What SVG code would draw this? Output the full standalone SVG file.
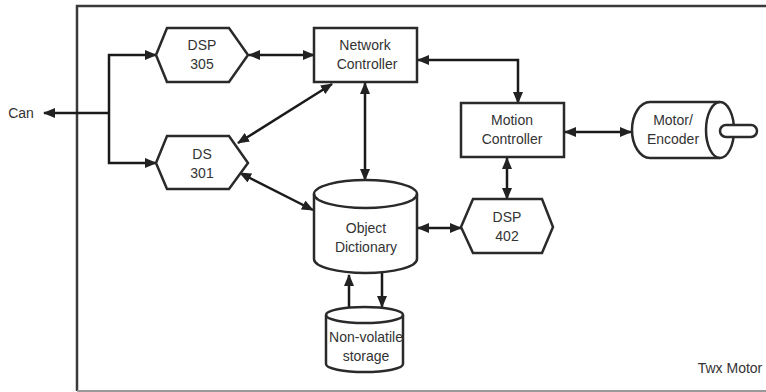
<svg xmlns="http://www.w3.org/2000/svg" width="766" height="392" viewBox="0 0 766 392">
<defs>
<marker id="arr" viewBox="0 0 12 10" refX="11" refY="5" markerWidth="12" markerHeight="10" markerUnits="userSpaceOnUse" orient="auto-start-reverse">
<path d="M0,0 L12,5 L0,10 z" fill="#222"/>
</marker>
<style>
.shape{fill:#fff;stroke:#2a2a2a;stroke-width:2.5}
.open{fill:none;stroke:#2a2a2a;stroke-width:2.5}
.line{fill:none;stroke:#1a1a1a;stroke-width:2.5}
.t{font-family:"Liberation Sans",Arial,sans-serif;font-size:14px;fill:#333;text-anchor:middle}
</style>
</defs>
<rect width="766" height="392" fill="#fff"/>
<g id="frame">
<path d="M77,391 V6 H766" fill="none" stroke="#3a3a3a" stroke-width="2.5"/>
<line x1="77" y1="391" x2="766" y2="391" stroke="#999" stroke-width="2"/>
<text class="t" x="730" y="373">Twx Motor</text>
</g>
<g id="connectors">
<line class="line" x1="109" y1="113" x2="44" y2="113" marker-end="url(#arr)"/>
<path class="line" d="M109,113 V55 H156" marker-end="url(#arr)"/>
<path class="line" d="M109,113 V163 H156" marker-end="url(#arr)"/>
<line class="line" x1="249" y1="55" x2="314" y2="55" marker-start="url(#arr)" marker-end="url(#arr)"/>
<path class="line" d="M418,60 H518 V103" marker-start="url(#arr)" marker-end="url(#arr)"/>
<line class="line" x1="332" y1="84" x2="238" y2="143" marker-start="url(#arr)" marker-end="url(#arr)"/>
<line class="line" x1="240" y1="173" x2="313" y2="210" marker-start="url(#arr)" marker-end="url(#arr)"/>
<line class="line" x1="365" y1="83" x2="365" y2="180" marker-start="url(#arr)" marker-end="url(#arr)"/>
<line class="line" x1="565" y1="132" x2="631" y2="132" marker-start="url(#arr)" marker-end="url(#arr)"/>
<line class="line" x1="507" y1="158" x2="507" y2="199" marker-start="url(#arr)" marker-end="url(#arr)"/>
<line class="line" x1="418" y1="228" x2="461" y2="228" marker-start="url(#arr)" marker-end="url(#arr)"/>
<line class="line" x1="349" y1="307" x2="349" y2="275" marker-end="url(#arr)"/>
<line class="line" x1="382" y1="273" x2="382" y2="307" marker-end="url(#arr)"/>
</g>
<g id="can">
<text class="t" x="21" y="118">Can</text>
</g>
<g id="dsp305">
<polygon class="shape" points="156,55 167,28 229,28 248,55 229,82 167,82"/>
<text class="t" x="202" y="50">DSP</text>
<text class="t" x="202" y="69">305</text>
</g>
<g id="ds301">
<polygon class="shape" points="156,163 167,136 229,136 248,163 229,189 167,189"/>
<text class="t" x="202" y="159">DS</text>
<text class="t" x="202" y="178">301</text>
</g>
<g id="network-controller">
<rect class="shape" x="314" y="28" width="103" height="54"/>
<text class="t" x="365" y="50">Network</text>
<text class="t" x="367" y="69">Controller</text>
</g>
<g id="motion-controller">
<rect class="shape" x="461" y="103" width="103" height="54"/>
<text class="t" x="512" y="125">Motion</text>
<text class="t" x="512" y="144">Controller</text>
</g>
<g id="motor-encoder">
<path class="shape" d="M650,102 H720 A14,28 0 0 1 720,158 H650 A18,28 0 0 1 650,102 Z"/>
<path class="open" d="M720,102 A14,28 0 0 0 720,158"/>
<rect class="shape" x="720" y="125" width="37" height="12" rx="6"/>
<text class="t" x="673" y="125">Motor/</text>
<text class="t" x="673" y="144">Encoder</text>
</g>
<g id="object-dictionary">
<path class="shape" d="M314,194 A51.5,14 0 0 1 417,194 V259 A51.5,14 0 0 1 314,259 Z"/>
<path class="open" d="M314,194 A51.5,14 0 0 0 417,194"/>
<text class="t" x="366" y="233">Object</text>
<text class="t" x="366" y="252">Dictionary</text>
</g>
<g id="dsp402">
<polygon class="shape" points="461,227 473,199 542,199 553,227 542,253 473,253"/>
<text class="t" x="507" y="222">DSP</text>
<text class="t" x="507" y="241">402</text>
</g>
<g id="non-volatile-storage">
<path class="shape" d="M326,315 A38.5,8 0 0 1 403,315 V364 A38.5,8 0 0 1 326,364 Z"/>
<path class="open" d="M326,315 A38.5,8 0 0 0 403,315"/>
<text class="t" x="366" y="342">Non-volatile</text>
<text class="t" x="366" y="361">storage</text>
</g>
</svg>
